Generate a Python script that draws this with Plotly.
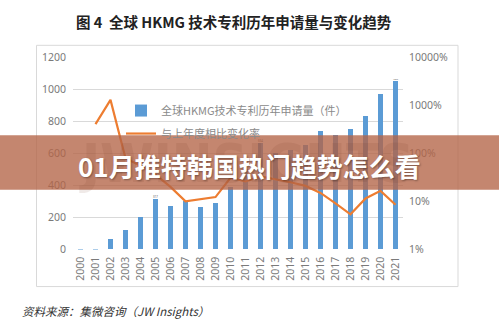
import plotly.graph_objects as go

W, H = 499, 329

# ---- data ----
years = [str(y) for y in range(2000, 2022)]
applications = [1, 2, 66, 121, 205, 317, 270, 300, 262, 292, 388, 500,
                664, 600, 620, 650, 740, 715, 750, 830, 970, 1053]
change_rate_pct = [None, 405, 1290, 79, 55, 36, 20, 10, 11, 12.3, 31, 26,
                   33, 29, 25, 21, 15, 9.1, 5.4, 11.5, 16.6, 8.5]
bar_labels = ["", "", "", "", "", "317", "", "", "", "", "", "",
              "664", "", "", "", "", "", "", "", "", "1053"]
left_ticks = [0, 200, 400, 600, 800, 1000, 1200]
right_tickvals = [1, 10, 100, 1000, 10000]
right_ticktext = ["1%", "10%", "100%", "1000%", "10000%"]

bar_name = "全球HKMG技术专利历年申请量（件）"
line_name = "与上年度相比变化率"
title_text = "图 4  全球 HKMG 技术专利历年申请量与变化趋势"
source_text = "资料来源：集微咨询（JW Insights）"
banner_text = "01月推特韩国热门趋势怎么看"


def px(x):
    return x / W


def py(y):
    return (H - y) / H


TICK_FONT = dict(family="Noto Sans, Noto Sans CJK SC, sans-serif", size=10.5, color="#7a7a7a")
CJK = "Noto Sans CJK SC, sans-serif"

fig = go.Figure()
fig.add_trace(go.Bar(
    x=years, y=applications, name=bar_name,
    marker=dict(color="#5B9BD5", line=dict(width=0)),
    width=0.36,
    text=bar_labels, textposition="outside", cliponaxis=False,
    textfont=dict(family="Noto Sans, sans-serif", size=10.5, color="#595959"),
    legendgroup="a",
))
fig.add_trace(go.Scatter(
    x=years, y=change_rate_pct, name=line_name, yaxis="y2",
    mode="lines", line=dict(color="#ED7D31", width=2.2),
    connectgaps=False, legendgroup="b",
))

fig.update_layout(
    width=W, height=H,
    margin=dict(l=0, r=0, t=0, b=0),
    paper_bgcolor="white", plot_bgcolor="white",
    showlegend=True,
    bargap=0,
    legend=dict(
        x=px(121), y=py(93), xanchor="left", yanchor="top",
        bgcolor="rgba(0,0,0,0)", borderwidth=0,
        font=dict(family=CJK, size=11, color="#8a8a8a"),
        tracegroupgap=4, itemwidth=30,
    ),
    xaxis=dict(
        type="category", domain=[px(73), px(403)], range=[-0.5, 21.5],
        tickangle=-90, showgrid=False, showline=False, zeroline=False,
        ticks="", tickfont=TICK_FONT, ticklabelstandoff=4,
    ),
    yaxis=dict(
        domain=[py(253.3), py(52.3)], range=[0, 1200],
        tickvals=left_ticks, showgrid=True, gridcolor="#d9d9d9", gridwidth=1,
        showline=False, zeroline=False, ticks="", tickfont=TICK_FONT,
        ticklabelstandoff=6,
    ),
    yaxis2=dict(
        overlaying="y", side="right", type="log", range=[0, 4],
        tickvals=right_tickvals, ticktext=right_ticktext,
        showgrid=False, showline=False, zeroline=False, ticks="",
        tickfont=TICK_FONT, ticklabelstandoff=5,
    ),
    shapes=[
        dict(type="rect", xref="paper", yref="paper",
             x0=px(36.5), x1=px(458), y0=py(292), y1=py(40),
             line=dict(color="#d9d9d9", width=1), fillcolor="rgba(0,0,0,0)",
             layer="below"),
        dict(type="rect", xref="paper", yref="paper",
             x0=0, x1=1, y0=py(191), y1=py(134),
             line=dict(width=0), fillcolor="rgba(180,100,70,0.78)",
             layer="above"),
    ],
    annotations=[
        dict(text=title_text, xref="paper", yref="paper", x=px(234), y=py(15),
             xanchor="center", yanchor="middle", showarrow=False,
             font=dict(family=CJK, size=14.5, color="#222222", weight="bold")),
        dict(text=source_text, xref="paper", yref="paper", x=px(20), y=py(317),
             xanchor="left", yanchor="middle", showarrow=False,
             font=dict(family=CJK, size=11.5, color="#333333", style="italic")),
        dict(text="JWINSIGHTS", xref="paper", yref="paper", x=px(246), y=py(163),
             xanchor="center", yanchor="middle", showarrow=False,
             font=dict(family="DejaVu Sans Condensed, DejaVu Sans, sans-serif", size=54,
                       color="rgba(110,50,30,0.10)", weight="bold")),
        dict(text=banner_text, xref="paper", yref="paper", x=px(250), y=py(166),
             xanchor="center", yanchor="middle", showarrow=False,
             font=dict(family=CJK, size=26, color="white", weight="bold",
                       shadow="1px 1px 2px rgba(0,0,0,0.35)")),
    ],
)

fig.write_html("out.html", config={"displayModeBar": False})
